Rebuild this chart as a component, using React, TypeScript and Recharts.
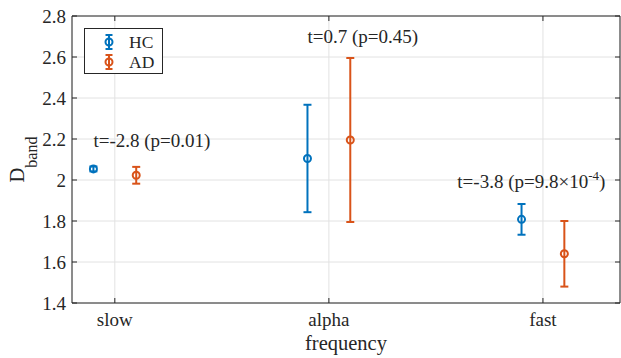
import React from 'react';
import { ScatterChart, Scatter, XAxis, YAxis, CartesianGrid, ErrorBar, ReferenceLine, Legend } from 'recharts';

const categories = ['slow', 'alpha', 'fast'];
const seriesNames = ['HC', 'AD'];
const hcMean = [2.054, 2.105, 1.808];
const hcErr = [0.012, 0.262, 0.075];
const adMean = [2.023, 2.195, 1.64];
const adErr = [0.041, 0.4, 0.16];
const yTicks = [1.4, 1.6, 1.8, 2.0, 2.2, 2.4, 2.6, 2.8];
const xTicks = [1, 2, 3];
const annX = [0.9, 1.9, 2.6];
const annY = [2.161, 2.668, 1.961];
const annText = ['t=-2.8 (p=0.01)', 't=0.7 (p=0.45)', 't=-3.8 (p=9.8×10^{-4})'];

const W = 621;
const H = 358;
const M = { top: 16, right: 1, bottom: 0, left: 0 };
const Y_AXIS_W = 72;
const X_AXIS_H = 55;
const PLOT_L = M.left + Y_AXIS_W;
const PLOT_R = W - M.right;
const PLOT_T = M.top;
const PLOT_B = H - M.bottom - X_AXIS_H;
const X_DOMAIN: [number, number] = [0.8, 3.36];
const Y_DOMAIN: [number, number] = [1.4, 2.8];
const GROUP_OFFSET = 0.1;

const COLORS = ['#0072BD', '#D95319'];
const AXIS = '#262626';
const GRID = '#e2e2e2';
const FONT = "'Liberation Serif', 'DejaVu Serif', 'Times New Roman', serif";
const TICK_FS = 19;
const LABEL_FS = 20.5;
const TICK_LEN = 5;

const hcData = categories.map((c, i) => ({ x: i + 1 - GROUP_OFFSET, y: hcMean[i], err: hcErr[i], cat: c }));
const adData = categories.map((c, i) => ({ x: i + 1 + GROUP_OFFSET, y: adMean[i], err: adErr[i], cat: c }));
const annData = annText.map((t, i) => ({ x: annX[i], y: annY[i], label: t }));

const fmtY = (v: number) => String(Number(v.toFixed(1)));

const txt = (size: number) => ({ fontFamily: FONT, fontSize: size });

const YTick = (props: any) => {
  const { x, y, payload } = props;
  return (
    <g>
      <line x1={x} y1={y} x2={x + TICK_LEN} y2={y} stroke={AXIS} strokeWidth={1} />
      <line x1={PLOT_R - TICK_LEN} y1={y} x2={PLOT_R} y2={y} stroke={AXIS} strokeWidth={1} />
      <text x={x - 6} y={y} dy="0.35em" textAnchor="end" style={txt(TICK_FS)} fill={AXIS}>
        {fmtY(payload.value)}
      </text>
    </g>
  );
};

const XTick = (props: any) => {
  const { x, y, payload } = props;
  const label = categories[Math.round(payload.value) - 1] ?? '';
  return (
    <g>
      <line x1={x} y1={y} x2={x} y2={y - TICK_LEN} stroke={AXIS} strokeWidth={1} />
      <line x1={x} y1={PLOT_T} x2={x} y2={PLOT_T + TICK_LEN} stroke={AXIS} strokeWidth={1} />
      <text x={x} y={y + 23} textAnchor="middle" style={txt(TICK_FS)} fill={AXIS}>
        {label}
      </text>
    </g>
  );
};

const makeMarker = (color: string) => (props: any) => {
  const { cx, cy } = props;
  if (cx == null || cy == null) return <g />;
  return <circle cx={cx} cy={cy} r={3.5} fill="none" stroke={color} strokeWidth={2} />;
};

const AnnShape = (props: any) => {
  const { cx, cy, payload } = props;
  const parts = String(payload.label).split(/\^\{(.*?)\}/);
  return (
    <text x={cx} y={cy} textAnchor="start" style={txt(TICK_FS)} fill={AXIS}>
      {parts.map((p, i) =>
        i % 2 === 1 ? (
          <tspan key={i} style={{ fontSize: 13 }} dy={-8}>{p}</tspan>
        ) : (
          <tspan key={i} dy={i > 0 ? 8 : 0}>{p}</tspan>
        )
      )}
    </text>
  );
};

const YLabel = (props: any) => {
  const vb = props.viewBox || {};
  const cy = (vb.y ?? PLOT_T) + (vb.height ?? PLOT_B - PLOT_T) / 2;
  const bx = 24;
  return (
    <text x={bx} y={cy} transform={`rotate(-90, ${bx}, ${cy})`} textAnchor="middle" style={{ fontFamily: FONT }} fill={AXIS}>
      <tspan style={{ fontSize: LABEL_FS }}>D</tspan>
      <tspan style={{ fontSize: 16 }} dy={13}>band</tspan>
    </text>
  );
};

const XLabel = (props: any) => {
  const vb = props.viewBox || {};
  const cx = (vb.x ?? PLOT_L) + (vb.width ?? PLOT_R - PLOT_L) / 2;
  return (
    <text x={cx} y={350} textAnchor="middle" style={txt(LABEL_FS)} fill={AXIS}>
      frequency
    </text>
  );
};

const LegendIcon = ({ cx, cy, color }: { cx: number; cy: number; color: string }) => (
  <g stroke={color} strokeWidth={2} fill="none">
    <line x1={cx} y1={cy - 7} x2={cx} y2={cy + 7} />
    <line x1={cx - 3.5} y1={cy - 7} x2={cx + 3.5} y2={cy - 7} />
    <line x1={cx - 3.5} y1={cy + 7} x2={cx + 3.5} y2={cy + 7} />
    <circle cx={cx} cy={cy} r={3.5} />
  </g>
);

const LegendBox = () => (
  <svg width={80} height={47} style={{ display: 'block' }}>
    <rect x={0.5} y={0.5} width={78} height={45} fill="#fff" stroke={AXIS} strokeWidth={1} />
    {seriesNames.map((n, i) => (
      <g key={n}>
        <LegendIcon cx={25} cy={14 + i * 20} color={COLORS[i]} />
        <text x={45} y={14 + i * 20} dy="0.35em" style={txt(17.5)} fill={AXIS}>
          {n}
        </text>
      </g>
    ))}
  </svg>
);

export default function App() {
  return (
    <div style={{ position: 'absolute', left: 0, top: 0, width: W, height: H, background: '#fff', fontFamily: FONT }}>
      <ScatterChart width={W} height={H} margin={M}>
        <CartesianGrid stroke={GRID} strokeWidth={1} />
        <XAxis
          type="number"
          dataKey="x"
          domain={X_DOMAIN}
          ticks={xTicks}
          interval={0}
          height={X_AXIS_H}
          tickSize={0}
          tickMargin={0}
          tickLine={false}
          axisLine={{ stroke: AXIS, strokeWidth: 1 }}
          tick={<XTick />}
          label={{ content: <XLabel /> }}
          allowDataOverflow
        />
        <YAxis
          type="number"
          dataKey="y"
          domain={Y_DOMAIN}
          ticks={yTicks}
          interval={0}
          width={Y_AXIS_W}
          tickSize={0}
          tickMargin={0}
          tickLine={false}
          axisLine={{ stroke: AXIS, strokeWidth: 1 }}
          tick={<YTick />}
          label={{ content: <YLabel /> }}
          allowDataOverflow
        />
        <ReferenceLine y={Y_DOMAIN[1]} stroke={AXIS} strokeWidth={1} />
        <ReferenceLine x={X_DOMAIN[1]} stroke={AXIS} strokeWidth={1} />
        <Scatter name={seriesNames[0]} data={hcData} dataKey="y" isAnimationActive={false} shape={makeMarker(COLORS[0])}>
          <ErrorBar dataKey="err" direction="y" width={4} stroke={COLORS[0]} strokeWidth={2} isAnimationActive={false} />
        </Scatter>
        <Scatter name={seriesNames[1]} data={adData} dataKey="y" isAnimationActive={false} shape={makeMarker(COLORS[1])}>
          <ErrorBar dataKey="err" direction="y" width={4} stroke={COLORS[1]} strokeWidth={2} isAnimationActive={false} />
        </Scatter>
        <Scatter name="ann" data={annData} dataKey="y" isAnimationActive={false} shape={<AnnShape />} legendType="none" />
        <Legend
          layout="vertical"
          align="center"
          verticalAlign="middle"
          content={() => <LegendBox />}
          wrapperStyle={{ left: 84, top: 28, width: 80, height: 47 }}
        />
      </ScatterChart>
    </div>
  );
}
